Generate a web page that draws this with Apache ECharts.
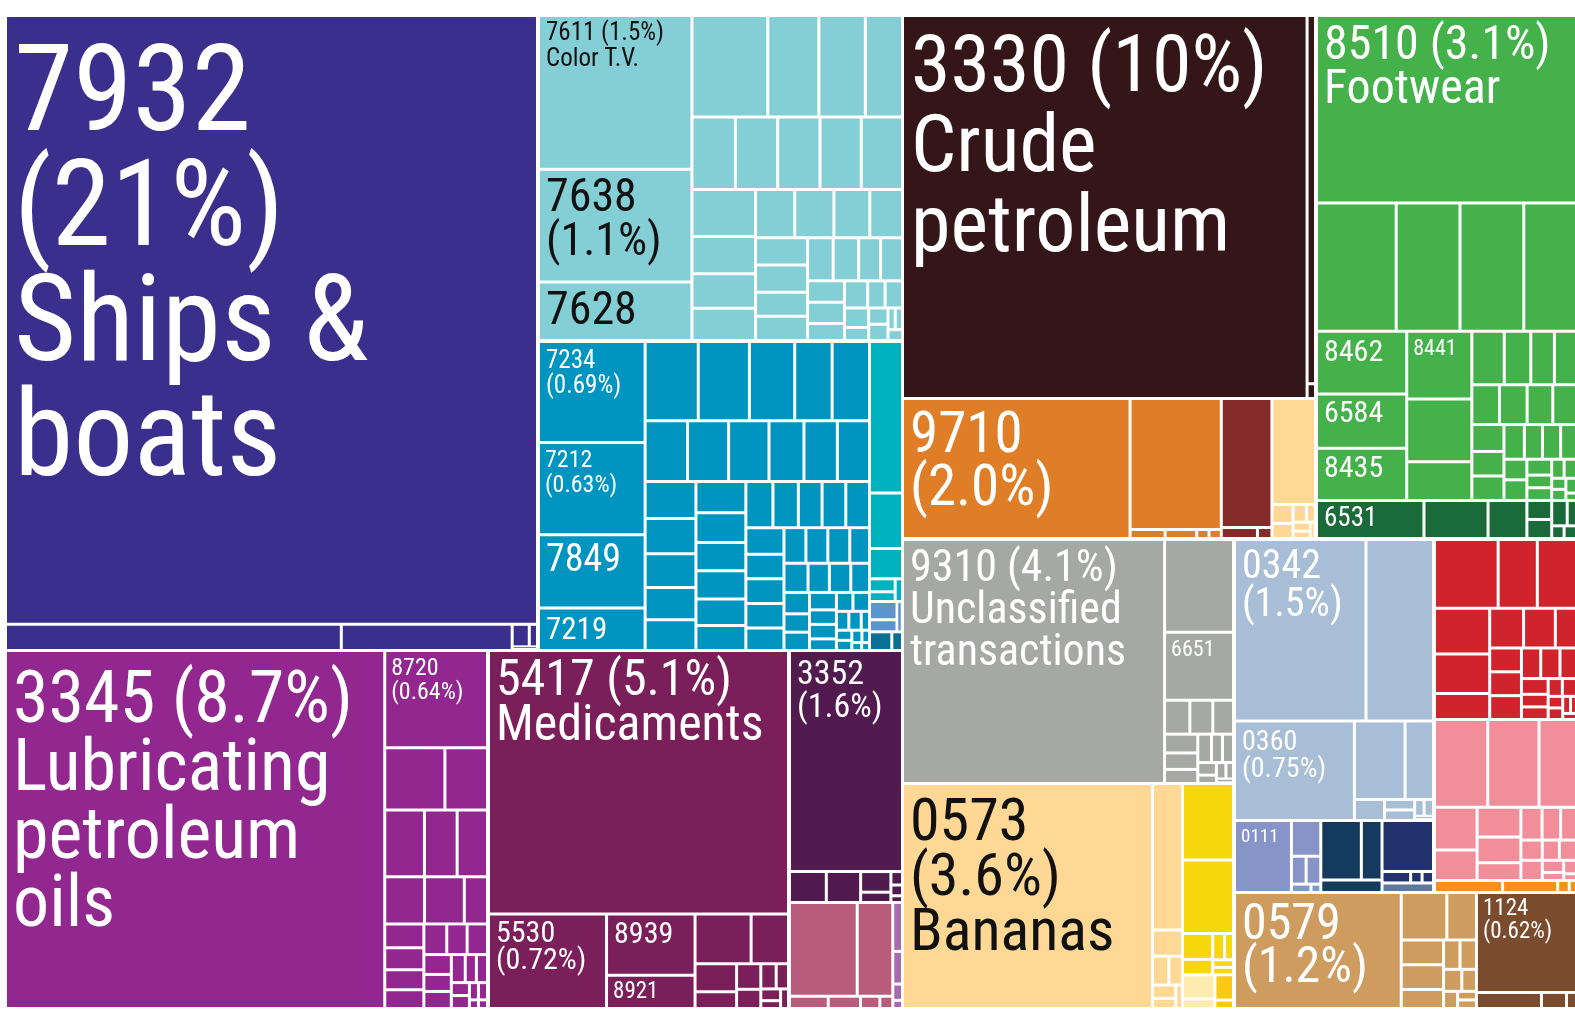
<!DOCTYPE html>
<html>
<head>
<meta charset="utf-8">
<title>Exports treemap</title>
<script src="https://cdn.jsdelivr.net/npm/echarts@6/dist/echarts.min.js"></script>
<style>
  html, body { margin: 0; padding: 0; background: #ffffff; }
  #chart { width: 1575px; height: 1011px; }
</style>
</head>
<body>
<div id="chart"></div>
<script>
// share of total exports (%), one array per colour group
var shipsValues = [21, 0.57, 0.29, 0.025, 0.012, 0.006];
var shipsCodes = ["7932"];

var tealValues = [1.5, 1.1, 0.57, 0.49, 0.33, 0.30, 0.24, 0.20, 0.195, 0.195, 0.19, 0.19, 0.19, 0.15, 0.14, 0.13, 0.12, 0.12, 0.11, 0.10, 0.09, 0.09, 0.08, 0.08, 0.07, 0.07, 0.06, 0.06, 0.05, 0.05, 0.04, 0.04, 0.03, 0.03, 0.03, 0.02, 0.02, 0.02, 0.01, 0.01, 0.01];
var tealCodes = ["7611", "7638", "7628"];

var machValues = [0.69, 0.63, 0.50, 0.29, 0.27, 0.26, 0.23, 0.19, 0.19, 0.165, 0.16, 0.157, 0.136, 0.13, 0.125, 0.12, 0.115, 0.11, 0.105, 0.10, 0.10, 0.095, 0.09, 0.09, 0.085, 0.08, 0.08, 0.075, 0.07, 0.07, 0.07, 0.065, 0.06, 0.06, 0.06, 0.055, 0.05, 0.05, 0.05, 0.045, 0.045, 0.04, 0.04, 0.035, 0.035, 0.03, 0.03, 0.03, 0.025, 0.025, 0.02, 0.02, 0.02, 0.015, 0.015, 0.01, 0.01, 0.01, 0.008, 0.006, 0.005, 0.004];
var machCodes = ["7234", "7212", "7849", "7219"];

var turqValues = [0.30, 0.11, 0.06, 0.02, 0.015, 0.01];
var steelValues = [0.03, 0.02, 0.01];
var darkTealValues = [0.025, 0.012];

var purpleValues = [8.7, 0.64, 0.24, 0.17, 0.17, 0.14, 0.13, 0.12, 0.12, 0.07, 0.06, 0.055, 0.05, 0.047, 0.045, 0.04, 0.04, 0.035, 0.03, 0.03, 0.025, 0.02, 0.02, 0.015, 0.015, 0.01, 0.01, 0.005, 0.005];
var purpleCodes = ["3345", "8720"];

var medValues = [5.1, 0.72, 0.35, 0.19, 0.18, 0.12, 0.075, 0.045, 0.04, 0.03, 0.025, 0.02, 0.015, 0.01, 0.01];
var medCodes = ["5417", "5530", "8939", "8921"];

var plumValues = [1.6, 0.073, 0.068, 0.04, 0.02, 0.01, 0.008, 0.005];
var plumCodes = ["3352"];

var mauveValues = [0.40, 0.21, 0.03, 0.025, 0.015, 0.01];
var lilacValues = [0.03, 0.02, 0.01, 0.005];

var crudeValues = [10, 0.2, 0.008];
var crudeCodes = ["3330"];

var greenValues = [3.1, 0.65, 0.52, 0.52, 0.43, 0.36, 0.31, 0.30, 0.28, 0.26, 0.16, 0.11, 0.09, 0.08, 0.075, 0.07, 0.07, 0.065, 0.06, 0.055, 0.05, 0.05, 0.045, 0.04, 0.04, 0.035, 0.03, 0.03, 0.025, 0.02, 0.02, 0.015, 0.015, 0.01, 0.01, 0.01, 0.005];
var greenCodes = ["8510", "", "", "", "", "8462", "6584", "8435", "8441"];
var darkGreenValues = [0.26, 0.155, 0.094, 0.03, 0.03, 0.025, 0.015, 0.01, 0.01];
var darkGreenCodes = ["6531"];

var orangeValues = [2.0, 0.75, 0.02, 0.018, 0.007, 0.007];
var orangeCodes = ["9710"];
var darkRedValues = [0.41, 0.025, 0.01];
var peachValues = [0.29, 0.025, 0.02, 0.015, 0.01, 0.01, 0.008, 0.005];

var greyValues = [4.1, 0.41, 0.30, 0.055, 0.05, 0.045, 0.04, 0.035, 0.03, 0.025, 0.02, 0.02, 0.015, 0.01, 0.01, 0.008, 0.005];
var greyCodes = ["9310", "", "6651"];

var bananaValues = [3.6, 0.28, 0.05, 0.03, 0.025, 0.02, 0.015, 0.01];
var bananaCodes = ["0573"];
var yellowValues = [0.25, 0.24, 0.05, 0.03, 0.02, 0.015, 0.01, 0.01];
var paleValues = [0.05, 0.02];
var goldValues = [0.03, 0.01];

var lightBlueValues = [1.5, 0.77, 0.75, 0.25, 0.14, 0.04, 0.02, 0.02, 0.01, 0.01, 0.005];
var lightBlueCodes = ["0342", "", "0360"];

var periValues = [0.25, 0.064, 0.025, 0.025, 0.01, 0.005];
var periCodes = ["0111"];
var navyValues = [0.147, 0.075, 0.047];
var indigoValues = [0.16, 0.02, 0.008, 0.008];
var slateValues = [0.03];

var redValues = [0.26, 0.16, 0.16, 0.15, 0.13, 0.085, 0.08, 0.075, 0.05, 0.045, 0.045, 0.045, 0.035, 0.035, 0.03, 0.025, 0.02, 0.02, 0.015, 0.015, 0.01, 0.01, 0.008, 0.006, 0.005];
var pinkValues = [0.27, 0.26, 0.19, 0.105, 0.075, 0.075, 0.065, 0.045, 0.04, 0.035, 0.03, 0.025, 0.025, 0.02, 0.02, 0.015, 0.01, 0.01, 0.005];
var amberValues = [0.047, 0.038, 0.008, 0.005];

var tanValues = [1.2, 0.134, 0.087, 0.065, 0.065, 0.05, 0.03, 0.03, 0.025, 0.02, 0.015, 0.01, 0.01];
var tanCodes = ["0579"];
var brownValues = [0.62, 0.065, 0.025, 0.01];
var brownCodes = ["1124"];

var productNames = {
  "7932": "Ships &\nboats",
  "3330": "Crude\npetroleum",
  "3345": "Lubricating\npetroleum\noils",
  "5417": "Medicaments",
  "9310": "Unclassified\ntransactions",
  "0573": "Bananas",
  "8510": "Footwear",
  "7611": "Color T.V."
};

// label look: [font size, line height, gap above first line, layout]
// layout: s = code / (pct), i = code (pct), c = code only
var labelStyles = {
  "7932": [120, 115, 28, "s"], "3330": [80, 80, 18, "i"], "3345": [72, 68, 20, "i"],
  "5417": [50, 45, 8, "i"], "9310": [44, 42, 9, "i"], "0573": [60, 55, 12, "s"],
  "8510": [48, 44, 8, "i"], "9710": [57, 53, 12, "s"], "0342": [40, 38, 9, "s"],
  "0360": [28, 27, 8, "s"], "0579": [50, 43, 10, "s"], "1124": [23, 23, 5, "s"],
  "3352": [34, 33, 8, "s"], "8720": [24, 24, 6, "s"], "5530": [30, 27, 6, "s"],
  "7234": [25, 25, 7, "s"], "7212": [24, 25, 6, "s"], "7849": [38, 38, 8, "c"],
  "7219": [31, 31, 8, "c"], "7611": [25, 26, 6, "i"], "7638": [46, 44, 8, "s"],
  "7628": [46, 46, 8, "c"], "8462": [30, 30, 7, "c"], "8441": [22, 22, 7, "c"],
  "6584": [30, 30, 5, "c"], "8435": [30, 30, 6, "c"], "6531": [27, 27, 5, "c"],
  "6651": [22, 22, 7, "c"], "0111": [19, 19, 7, "c"], "8939": [30, 30, 6, "c"],
  "8921": [23, 23, 5, "c"]
};
var darkText = ["7611", "7638", "7628", "0573"];

var colors = {
  ships: "#3b2f8e", teal: "#84ced6", mach: "#0095c0", turq: "#00b2be",
  steel: "#5c95ce", darkTeal: "#0b6e95", purple: "#92278f", med: "#7a1f5a",
  plum: "#521b4f", mauve: "#b75c7b", lilac: "#a66bae", crude: "#341518",
  green: "#45b14a", darkGreen: "#1b6a39", orange: "#e07e27", darkRed: "#842a28",
  peach: "#fed894", grey: "#a6a8a5", yellow: "#f6d70c", pale: "#fdebb0",
  gold: "#fbc813", lightBlue: "#a8bed6", peri: "#8694c8", navy: "#143a5e",
  indigo: "#22326e", slate: "#64769a", red: "#d1232b", pink: "#f28d9a",
  amber: "#f58f22", tan: "#ce9c5f", brown: "#7a4b2d"
};

// blocks of the picture: [left, top, width, height] and their colour groups
var regions = [
  { rect: [7, 17, 529, 632], groups: [["ships", shipsValues, shipsCodes]] },
  { rect: [540, 17, 361, 322], groups: [["teal", tealValues, tealCodes]] },
  { rect: [540, 343, 328, 306], groups: [["mach", machValues, machCodes]] },
  { rect: [871, 343, 30, 306], groups: [["turq", turqValues], ["steel", steelValues], ["darkTeal", darkTealValues]] },
  { rect: [7, 652, 479, 355], groups: [["purple", purpleValues, purpleCodes]] },
  { rect: [490, 652, 297, 355], groups: [["med", medValues, medCodes]] },
  { rect: [791, 652, 110, 249], groups: [["plum", plumValues, plumCodes]] },
  { rect: [791, 904, 110, 103], groups: [["mauve", mauveValues], ["lilac", lilacValues]] },
  { rect: [904, 17, 410, 380], groups: [["crude", crudeValues, crudeCodes]] },
  { rect: [1318, 17, 257, 520], groups: [["green", greenValues, greenCodes], ["darkGreen", darkGreenValues, darkGreenCodes]] },
  { rect: [904, 400, 410, 137], groups: [["orange", orangeValues, orangeCodes], ["darkRed", darkRedValues], ["peach", peachValues]] },
  { rect: [904, 541, 328, 241], groups: [["grey", greyValues, greyCodes]] },
  { rect: [904, 785, 328, 222], groups: [["peach", bananaValues, bananaCodes], ["yellow", yellowValues], ["pale", paleValues], ["gold", goldValues]] },
  { rect: [1236, 541, 196, 278], groups: [["lightBlue", lightBlueValues, lightBlueCodes]] },
  { rect: [1236, 822, 196, 69], groups: [["peri", periValues, periCodes], ["navy", navyValues], ["indigo", indigoValues], ["slate", slateValues]] },
  { rect: [1436, 541, 139, 177], groups: [["red", redValues]] },
  { rect: [1436, 721, 139, 170], groups: [["pink", pinkValues], ["amber", amberValues]] },
  { rect: [1236, 894, 339, 113], groups: [["tan", tanValues, tanCodes], ["brown", brownValues, brownCodes]] }
];

var FONT = "'Roboto Condensed', 'Liberation Sans', sans-serif";

function pctText(v) {
  if (v >= 10) return v.toFixed(0);
  if (v >= 1) return v.toFixed(1);
  return v.toFixed(2);
}

function labelText(code, v, mode) {
  var s = code;
  if (mode === "s") s += "\n(" + pctText(v) + "%)";
  if (mode === "i") s += " (" + pctText(v) + "%)";
  if (productNames[code]) s += "\n" + productNames[code];
  return s;
}

function leaf(v, code, color) {
  var item = { name: code || "", value: v, itemStyle: { color: color } };
  var st = labelStyles[code];
  if (st) {
    var txt = labelText(code, v, st[3]);
    var fs = st[0], lh = st[1];
    item.label = {
      show: true,
      position: "insideTopLeft",
      distance: 0,
      padding: [Math.max(0, Math.round(st[2] + 0.451 * fs - lh / 2)), 0, 0, Math.round(5 + 0.02 * fs)],
      fontFamily: FONT,
      fontSize: fs,
      lineHeight: lh,
      overflow: "none",
      lineOverflow: "none",
      color: darkText.indexOf(code) >= 0 ? "#111111" : "#ffffff",
      formatter: function () { return txt; }
    };
  }
  return item;
}

var chart = echarts.init(document.getElementById("chart"));
var option = {
  animation: false,
  backgroundColor: "#ffffff",
  series: regions.map(function (r) {
    return {
      type: "treemap",
      left: r.rect[0],
      top: r.rect[1],
      width: r.rect[2],
      height: r.rect[3],
      roam: false,
      nodeClick: false,
      silent: true,
      visibleMin: 0,
      breadcrumb: { show: false },
      label: { show: false },
      upperLabel: { show: false },
      itemStyle: { borderColor: "#ffffff", borderWidth: 0, gapWidth: 3 },
      levels: [
        { itemStyle: { borderColor: "#ffffff", borderWidth: 0, gapWidth: 3 } },
        { itemStyle: { borderColor: "#ffffff", borderWidth: 0, gapWidth: 3 } },
        { itemStyle: { borderColor: "#ffffff", borderWidth: 0, gapWidth: 0 } }
      ],
      data: r.groups.map(function (g) {
        var col = colors[g[0]];
        var codes = g[2] || [];
        return {
          name: g[0],
          itemStyle: { color: col },
          children: g[1].map(function (v, i) { return leaf(v, codes[i], col); })
        };
      })
    };
  })
};
chart.setOption(option);
</script>
</body>
</html>
